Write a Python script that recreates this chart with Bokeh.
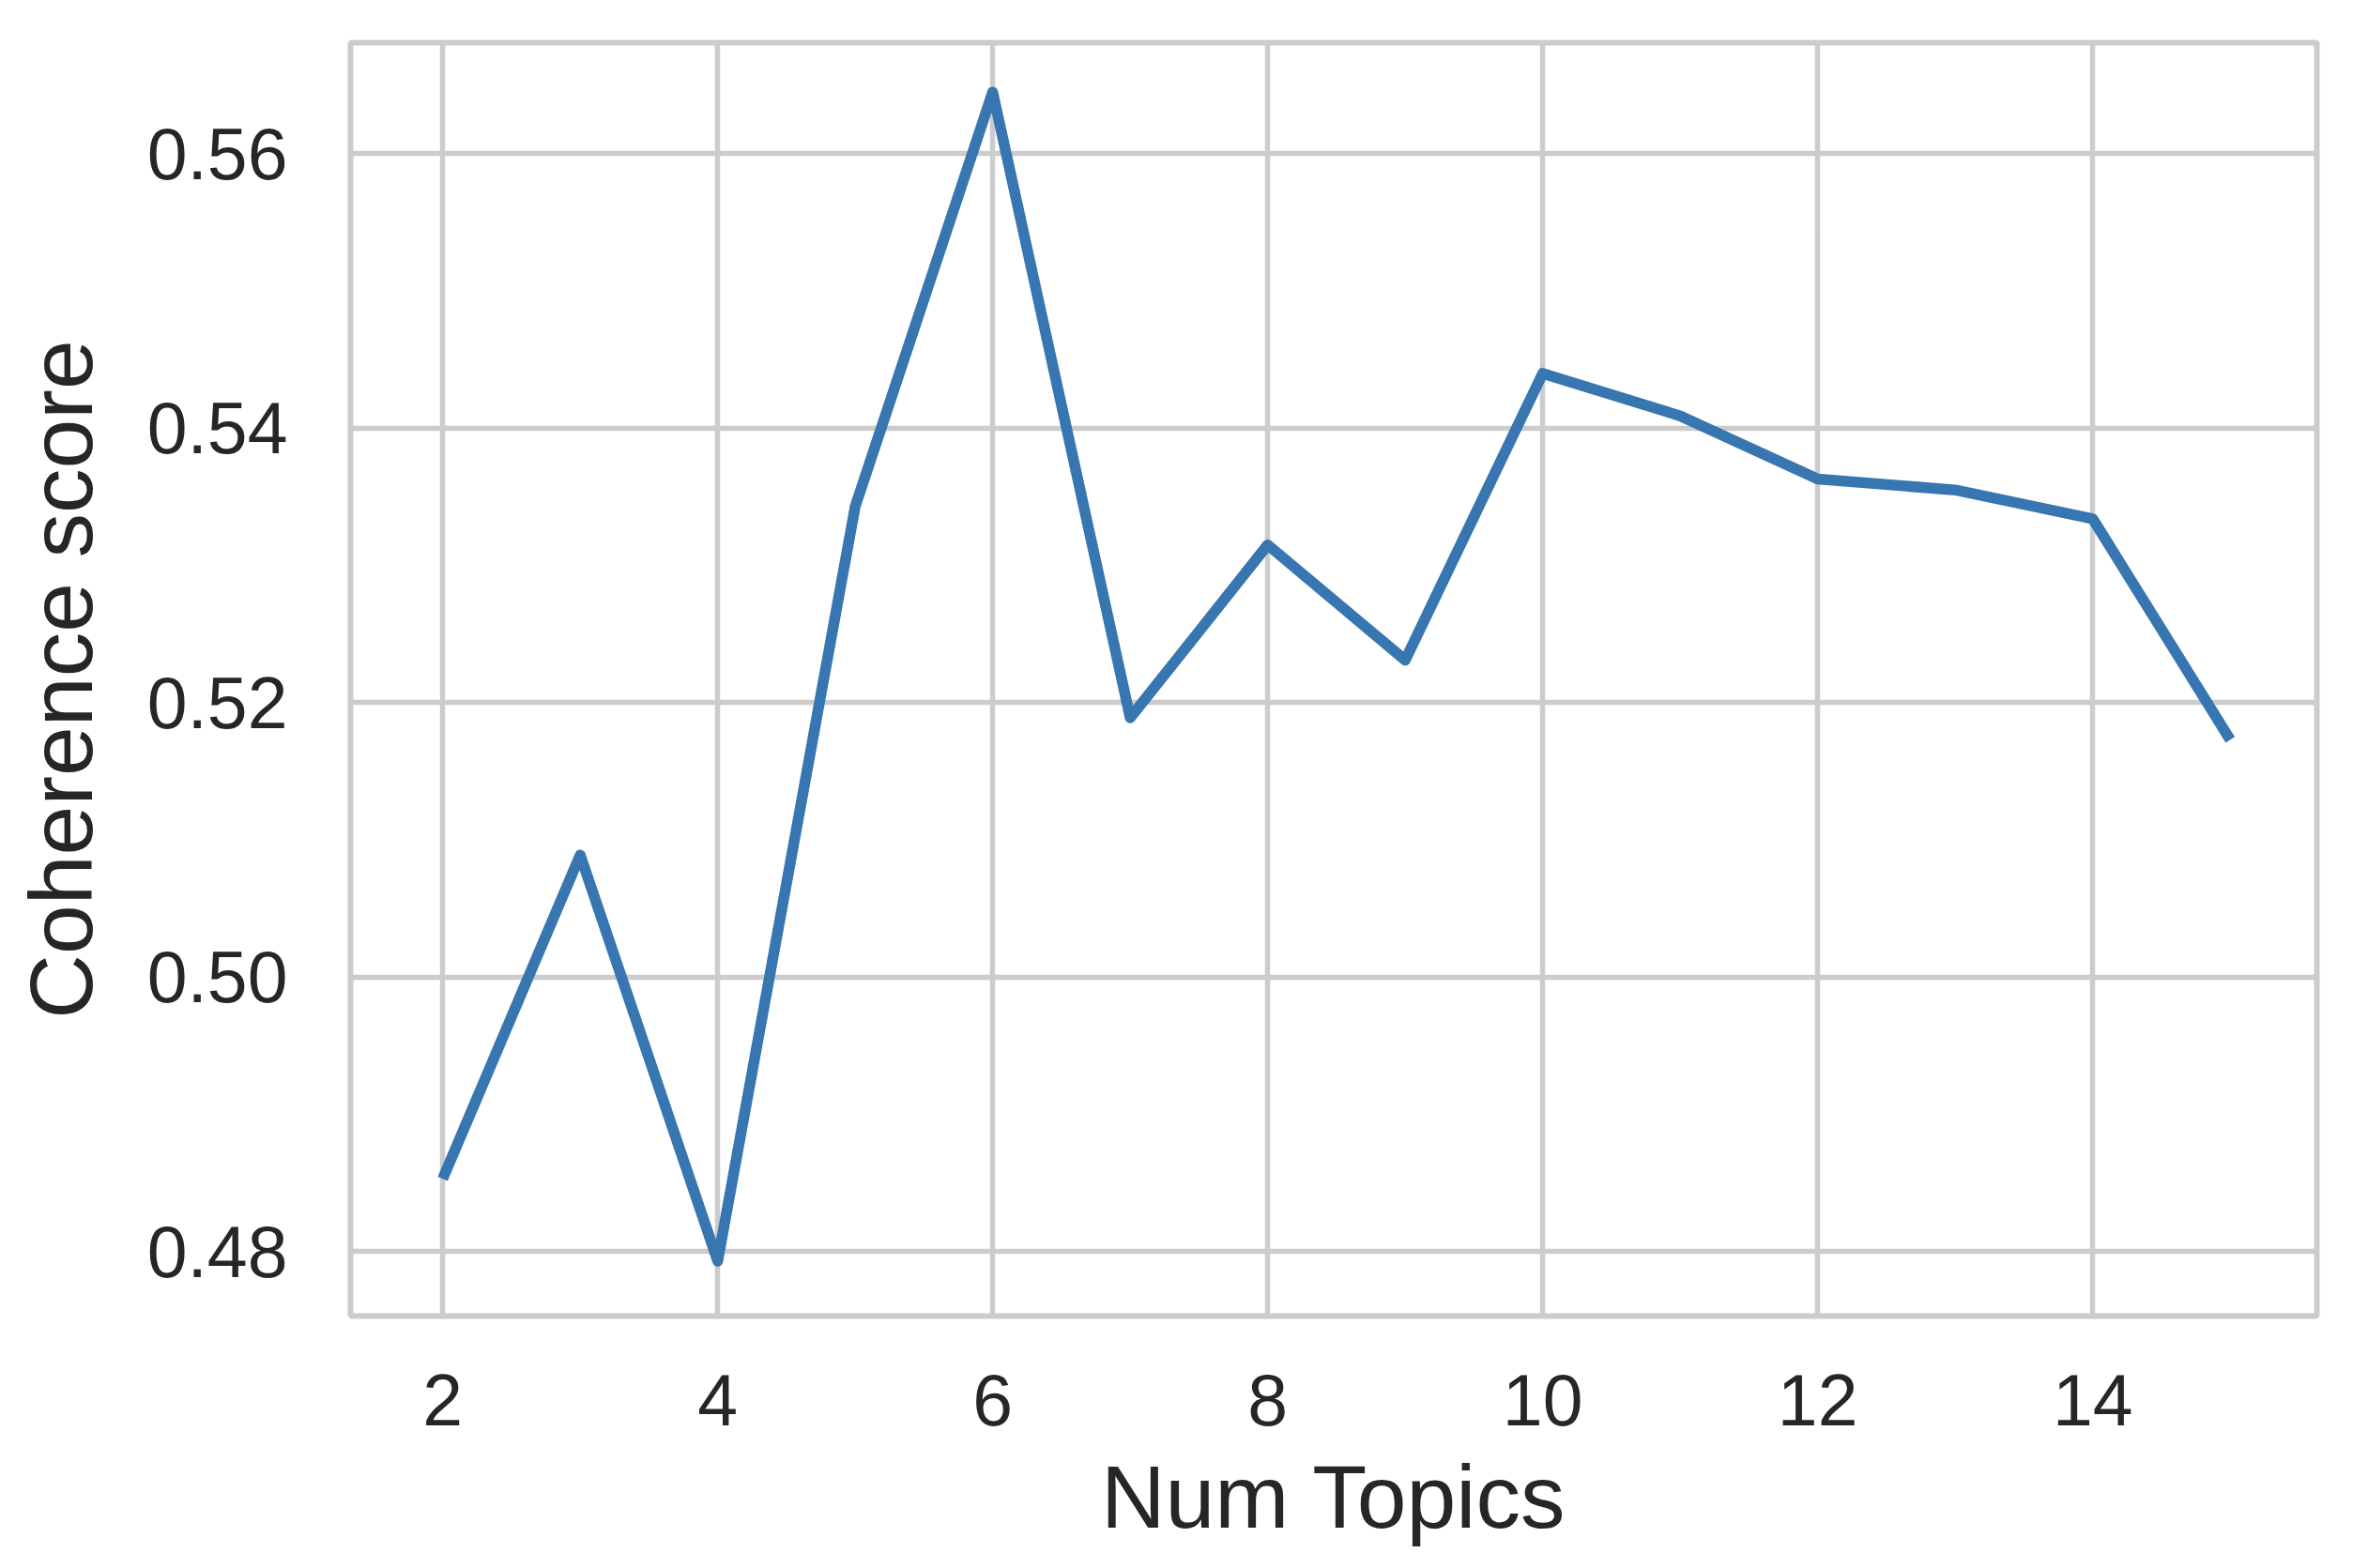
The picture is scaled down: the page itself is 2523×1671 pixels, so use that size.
from bokeh.plotting import figure
from bokeh.models import Range1d, FixedTicker, PrintfTickFormatter, ColumnDataSource
from bokeh.embed import file_html
from bokeh.resources import INLINE

# Data
num_topics = [2, 3, 4, 5, 6, 7, 8, 9, 10, 11, 12, 13, 14, 15]
coherence = [0.4853, 0.5089, 0.4793, 0.5343, 0.5645, 0.5189, 0.5315,
             0.5231, 0.5440, 0.5409, 0.5363, 0.5355, 0.5334, 0.5173]
x_ticks = [2, 4, 6, 8, 10, 12, 14]
y_ticks = [0.48, 0.50, 0.52, 0.54, 0.56]
x_label = "Num Topics"
y_label = "Coherence score"

FONT = "Liberation Sans"
TXT = "#262626"
GRID = "#cccccc"
LINE = "#3776b0"

p = figure(
    frame_width=2095, frame_height=1357,
    min_border_left=373, min_border_right=39,
    min_border_top=45, min_border_bottom=253,
    x_range=Range1d(1.33, 15.63), y_range=Range1d(0.4753, 0.5681),
    output_backend="svg", toolbar_location=None,
    background_fill_color="white", border_fill_color="white",
)

src = ColumnDataSource(dict(x=num_topics, y=coherence))
p.line("x", "y", source=src, line_color=LINE, line_width=11.5,
       line_join="round", line_cap="butt")

p.outline_line_color = GRID
p.outline_line_width = 6

for g in (p.xgrid, p.ygrid):
    g.grid_line_color = GRID
    g.grid_line_width = 5.5

p.xaxis.ticker = FixedTicker(ticks=x_ticks)
p.yaxis.ticker = FixedTicker(ticks=y_ticks)
p.yaxis.formatter = PrintfTickFormatter(format="%.2f")
p.xgrid.ticker = FixedTicker(ticks=x_ticks)
p.ygrid.ticker = FixedTicker(ticks=y_ticks)

for ax in (p.xaxis, p.yaxis):
    ax.axis_line_color = None
    ax.major_tick_line_color = None
    ax.minor_tick_line_color = None
    ax.major_tick_out = 0
    ax.major_tick_in = 0
    ax.major_label_text_font = FONT
    ax.major_label_text_font_size = "77px"
    ax.major_label_text_color = TXT
    ax.axis_label_text_font = FONT
    ax.axis_label_text_font_size = "95px"
    ax.axis_label_text_color = TXT
    ax.axis_label_text_font_style = "normal"

p.xaxis.axis_label = x_label
p.yaxis.axis_label = y_label
p.xaxis.major_label_standoff = 62
p.xaxis.axis_label_standoff = 20
p.yaxis.major_label_standoff = 67
p.yaxis.axis_label_standoff = 36

open("out.html", "w").write(file_html(p, INLINE))
